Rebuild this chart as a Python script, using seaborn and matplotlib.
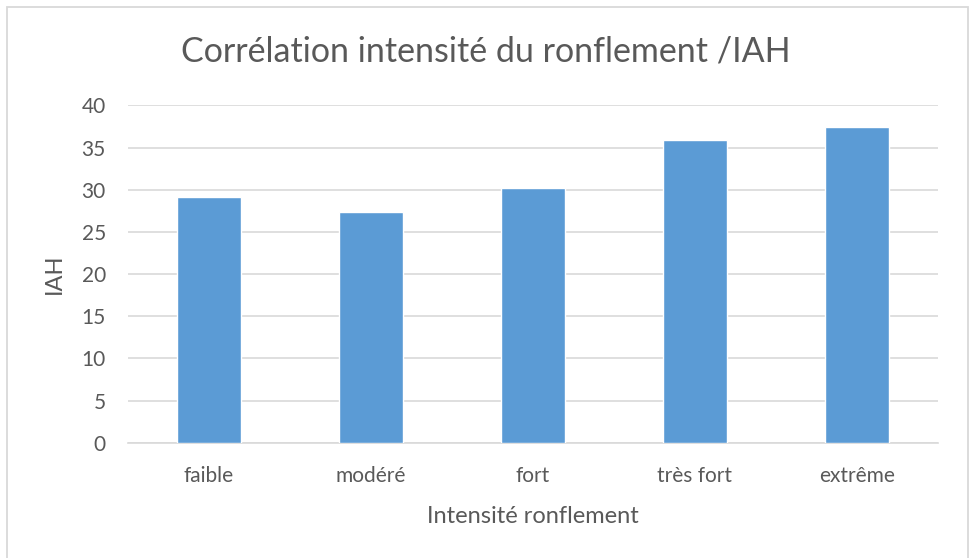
import numpy as np
import pandas as pd
import matplotlib
matplotlib.use("Agg")
import matplotlib.pyplot as plt
import seaborn as sns

categories = ["faible", "modéré", "fort", "très fort", "extrême"]
iah = [29.2, 27.4, 30.2, 35.9, 37.5]

df = pd.DataFrame({"intensite": categories, "iah": iah})

sns.set_style("white")
plt.rcParams['font.family'] = ['Lato', 'DejaVu Sans']
txt = "#595959"

fig = plt.figure(figsize=(9.71, 5.58), dpi=100)
ax = fig.add_axes([0.1318, 0.2066, 0.966 - 0.1318, 0.811 - 0.2066])

sns.barplot(data=df, x="intensite", y="iah", color="#5B9BD5", width=0.4,
            saturation=1, ax=ax, zorder=3)

ax.set_ylim(0, 40)
ax.set_yticks(range(0, 41, 5))
ax.set_xlim(-0.5, 4.5)
ax.grid(axis="y", color="#D9D9D9", linewidth=1.2, zorder=0)
for s in ["top", "right", "left"]:
    ax.spines[s].set_visible(False)
ax.spines["bottom"].set_color("#D9D9D9")
ax.spines["bottom"].set_linewidth(1.2)
ax.tick_params(axis="both", length=0, labelsize=15, colors=txt)
ax.tick_params(axis="y", pad=16)
ax.tick_params(axis="x", pad=17)

ax.set_xlabel("Intensité ronflement", fontsize=17, color=txt, labelpad=14)
ax.set_ylabel("IAH", fontsize=17, color=txt, labelpad=12)
fig.text(0.5, 0.907, "Corrélation intensité du ronflement /IAH", fontsize=24.5,
         color=txt, ha="center", va="center")

# thin frame around the chart area
fig.patches.append(plt.Rectangle((7 / 971, -0.01), 961 / 971, 1 - 7 / 558 + 0.01,
                                 transform=fig.transFigure, fill=False,
                                 edgecolor="#D9D9D9", linewidth=1.3))

fig.savefig("out.png", dpi=100)
